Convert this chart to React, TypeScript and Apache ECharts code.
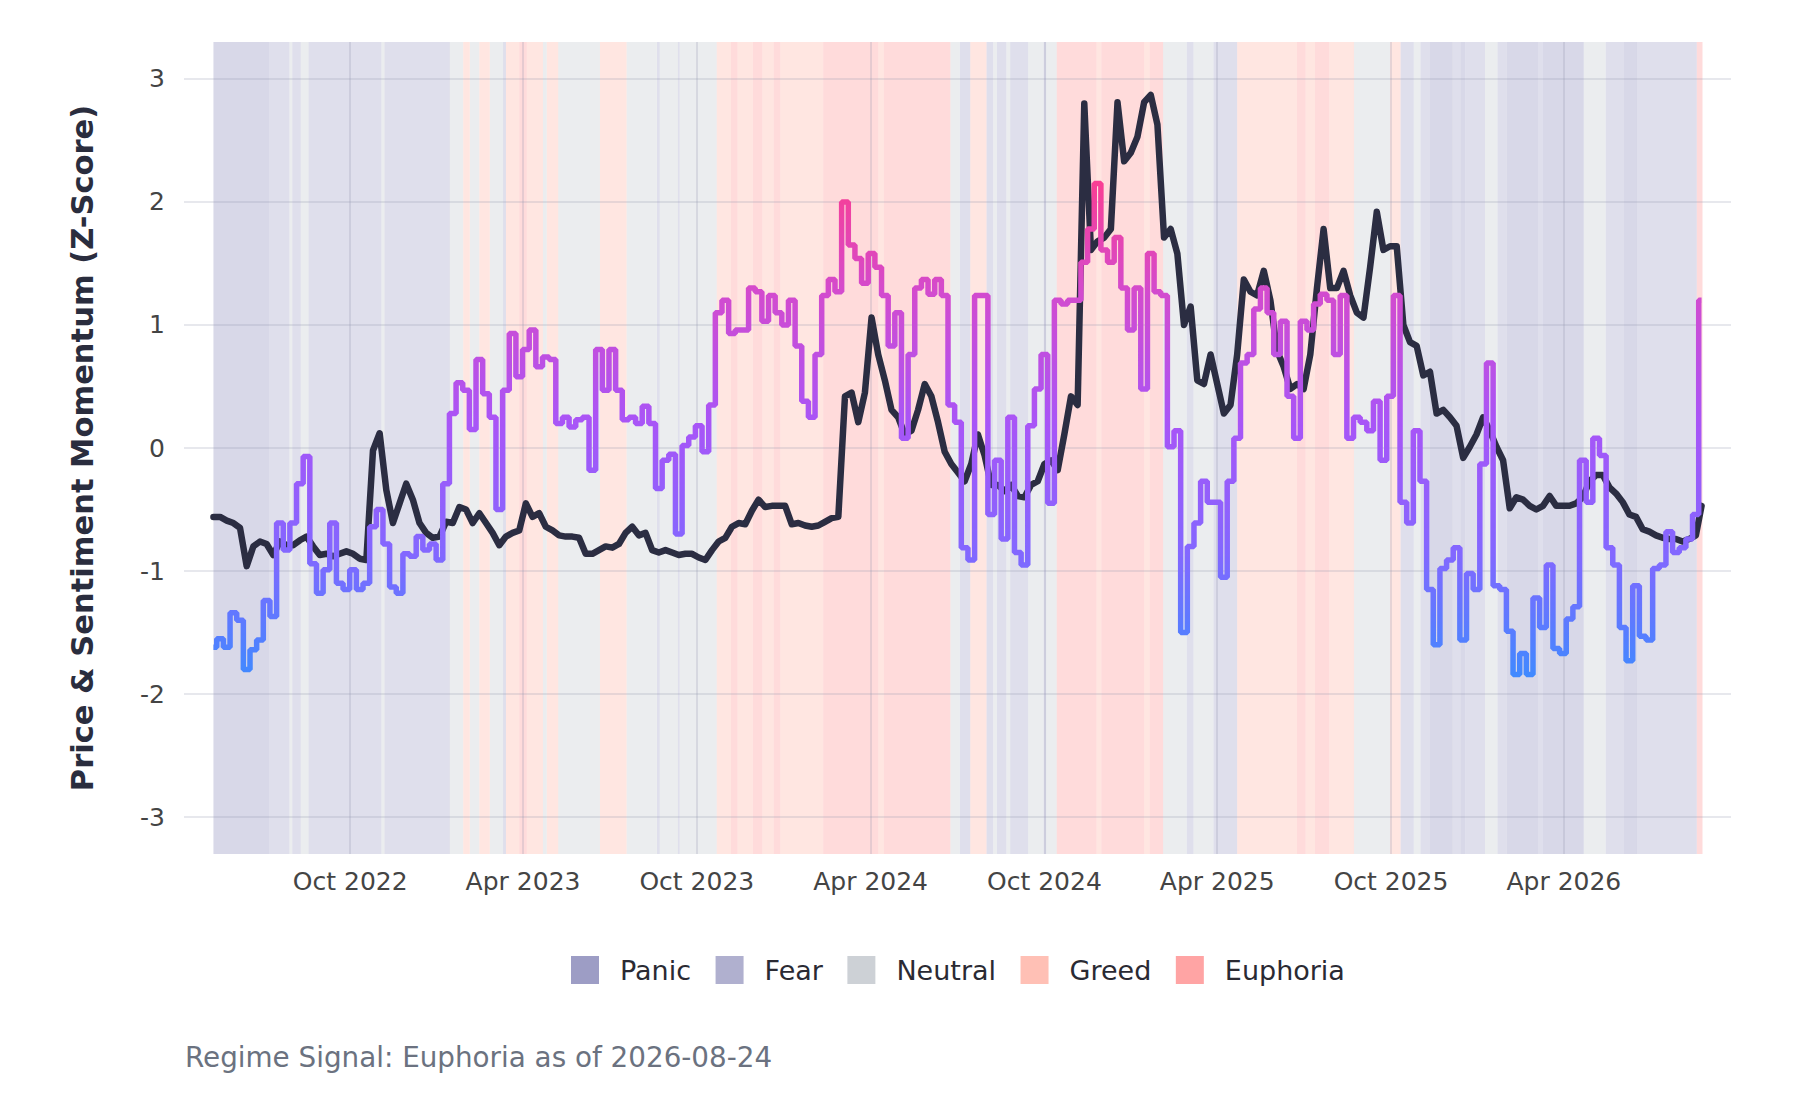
import { useEffect, useRef } from "react";
import * as echarts from "echarts";

// ---- data ----
const START_DATE = "2022-05-10";
const END_DATE = "2026-08-24";
const STEP_DAYS = 7;
const AXIS_MIN = "2022-04-09";
const AXIS_MAX = "2026-09-24";
const DAY = 86400000;

const tickDates = [
  "2022-10-01", "2023-04-01", "2023-10-01", "2024-04-01",
  "2024-10-01", "2025-04-01", "2025-10-01", "2026-04-01",
];
const tickLabels = [
  "Oct 2022", "Apr 2023", "Oct 2023", "Apr 2024",
  "Oct 2024", "Apr 2025", "Oct 2025", "Apr 2026",
];
const yTicks = [-3, -2, -1, 0, 1, 2, 3];

// weekly readings from START_DATE, last value on END_DATE
const sentiment = [
  -1.62, -1.55, -1.62, -1.34, -1.4, -1.8, -1.64, -1.56, -1.24, -1.37,
  -0.61, -0.83, -0.61, -0.29, -0.07, -0.94, -1.18, -0.99, -0.61, -1.1,
  -1.15, -0.99, -1.15, -1.1, -0.64, -0.5, -0.78, -1.13, -1.18, -0.86,
  -0.88, -0.72, -0.83, -0.78, -0.91, -0.29, 0.28, 0.53, 0.47, 0.15,
  0.72, 0.44, 0.25, -0.5, 0.47, 0.93, 0.58, 0.8, 0.96, 0.66,
  0.74, 0.72, 0.2, 0.25, 0.17, 0.23, 0.25, -0.18, 0.8, 0.47,
  0.8, 0.47, 0.23, 0.25, 0.2, 0.34, 0.2, -0.33, -0.1, -0.05,
  -0.7, 0.02, 0.09, 0.18, -0.03, 0.35, 1.1, 1.2, 0.93, 0.96,
  0.96, 1.3, 1.27, 1.03, 1.24, 1.1, 1.0, 1.2, 0.83, 0.38,
  0.25, 0.76, 1.24, 1.37, 1.27, 2.0, 1.65, 1.54, 1.34, 1.58,
  1.47, 1.24, 0.83, 1.1, 0.08, 0.76, 1.3, 1.37, 1.25, 1.37,
  1.24, 0.35, 0.21, -0.81, -0.91, 1.24, 1.24, -0.54, -0.1, -0.74,
  0.25, -0.85, -0.95, 0.18, 0.48, 0.76, -0.45, 1.2, 1.17, 1.2,
  1.2, 1.51, 1.78, 2.15, 1.61, 1.51, 1.71, 1.3, 0.96, 1.3,
  0.48, 1.58, 1.27, 1.24, 0.01, 0.14, -1.5, -0.8, -0.61, -0.27,
  -0.44, -0.44, -1.05, -0.27, 0.08, 0.69, 0.76, 1.13, 1.3, 1.1,
  0.76, 1.03, 0.42, 0.08, 1.03, 0.96, 1.17, 1.25, 1.2, 0.76,
  1.24, 0.08, 0.25, 0.21, 0.14, 0.38, -0.1, 0.42, 1.24, -0.44,
  -0.61, 0.14, -0.27, -1.15, -1.6, -0.98, -0.91, -0.81, -1.56, -1.02,
  -1.15, -0.13, 0.69, -1.12, -1.15, -1.49, -1.84, -1.67, -1.84, -1.22,
  -1.46, -0.95, -1.63, -1.67, -1.39, -1.29, -0.1, -0.44, 0.08, -0.06,
  -0.81, -0.95, -1.46, -1.73, -1.12, -1.53, -1.56, -0.98, -0.95, -0.68,
  -0.85, -0.81, -0.74, -0.54, 1.2,
];

const priceMomentum = [
  -0.56, -0.56, -0.59, -0.61, -0.65, -0.96, -0.8, -0.76, -0.78, -0.87,
  -0.76, -0.79, -0.79, -0.75, -0.72, -0.8, -0.87, -0.86, -0.88, -0.86,
  -0.84, -0.86, -0.9, -0.91, -0.02, 0.12, -0.34, -0.61, -0.45, -0.29,
  -0.42, -0.61, -0.69, -0.73, -0.72, -0.6, -0.61, -0.48, -0.5, -0.61,
  -0.53, -0.61, -0.69, -0.79, -0.72, -0.69, -0.67, -0.45, -0.56, -0.53,
  -0.64, -0.67, -0.71, -0.72, -0.72, -0.73, -0.86, -0.86, -0.83, -0.8,
  -0.81, -0.78, -0.69, -0.64, -0.71, -0.69, -0.83, -0.85, -0.83, -0.85,
  -0.87, -0.86, -0.86, -0.89, -0.91, -0.83, -0.76, -0.73, -0.64, -0.61,
  -0.62, -0.51, -0.42, -0.48, -0.47, -0.47, -0.47, -0.62, -0.61, -0.63,
  -0.64, -0.63, -0.6, -0.57, -0.56, 0.42, 0.45, 0.21, 0.45, 1.06,
  0.76, 0.55, 0.31, 0.25, 0.11, 0.14, 0.31, 0.52, 0.42, 0.21,
  -0.03, -0.13, -0.2, -0.27, -0.13, 0.11, -0.06, -0.3, -0.3, -0.35,
  -0.3, -0.39, -0.4, -0.3, -0.27, -0.13, -0.1, -0.18, 0.11, 0.42,
  0.35, 2.8, 1.61, 1.68, 1.71, 1.78, 2.81, 2.33, 2.4, 2.53,
  2.81, 2.87, 2.63, 1.71, 1.78, 1.58, 1.0, 1.15, 0.55, 0.52,
  0.76, 0.52, 0.28, 0.35, 0.76, 1.37, 1.27, 1.24, 1.44, 1.2,
  0.79, 0.66, 0.48, 0.52, 0.48, 0.76, 1.3, 1.78, 1.3, 1.3,
  1.44, 1.24, 1.1, 1.06, 1.47, 1.92, 1.61, 1.64, 1.64, 1.0,
  0.86, 0.83, 0.59, 0.62, 0.28, 0.31, 0.25, 0.18, -0.08, 0.01,
  0.11, 0.25, 0.14, 0.01, -0.1, -0.49, -0.4, -0.42, -0.47, -0.5,
  -0.47, -0.39, -0.47, -0.47, -0.47, -0.45, -0.4, -0.27, -0.22, -0.22,
  -0.32, -0.37, -0.44, -0.54, -0.56, -0.66, -0.68, -0.71, -0.73, -0.74,
  -0.74, -0.76, -0.74, -0.71, -0.47,
];

const regimeNames = ["Panic", "Fear", "Neutral", "Greed", "Euphoria"];
const regimeCodes = ["P", "F", "N", "G", "E"];
const regimeColors = ["#9d9dc5", "#b0b0cf", "#cdd1d6", "#ffc0b5", "#ffa4a4"];

// regime periods: start day (offset from START_DATE) and regime code
const regimeStartDay = [
  0, 59, 80, 83, 92, 100, 177, 180, 249, 263,
  270, 280, 291, 305, 308, 322, 330, 347, 351, 363,
  407, 435, 467, 470, 489, 491, 530, 545, 552, 568,
  578, 590, 597, 642, 700, 706, 776, 786, 797, 814,
  821, 825, 835, 839, 858, 874, 877, 888, 930, 935,
  980, 986, 1000, 1025, 1032, 1053, 1078, 1141, 1150, 1160,
  1175, 1201, 1239, 1250, 1264, 1271, 1281, 1305, 1313, 1318,
  1339, 1352, 1362, 1395, 1400, 1443, 1466, 1485, 1499, 1562,
];
const regimeSeq = [
  "P", "F", "N", "F", "N", "F", "N", "F", "N", "G",
  "N", "G", "N", "F", "G", "E", "G", "N", "G", "N",
  "G", "N", "F", "N", "F", "N", "G", "E", "G", "E",
  "G", "E", "G", "E", "G", "E", "N", "F", "G", "F",
  "N", "F", "N", "F", "N", "F", "N", "E", "G", "E",
  "G", "E", "N", "F", "N", "F", "G", "E", "G", "E",
  "G", "N", "G", "F", "N", "F", "P", "F", "P", "F",
  "N", "F", "P", "F", "P", "N", "F", "P", "F", "E",
];
const REGIME_END_DAY = 1568;

const FONT = "DejaVu Sans";

export default function App() {
  const ref = useRef<HTMLDivElement>(null);

  useEffect(() => {
    if (!ref.current) return;
    const chart = echarts.init(ref.current, undefined, { renderer: "svg" });

    const t0 = Date.parse(START_DATE);
    const tEnd = Date.parse(END_DATE);
    const n = sentiment.length;
    const times = sentiment.map((_, i) => (i === n - 1 ? tEnd : t0 + i * STEP_DAYS * DAY));
    const tickTimes = tickDates.map((d) => Date.parse(d));

    const segments = regimeStartDay.map((d, i) => {
      const next = i + 1 < regimeStartDay.length ? regimeStartDay[i + 1] : REGIME_END_DAY;
      return { code: regimeSeq[i], from: t0 + d * DAY, to: t0 + next * DAY };
    });

    const regimeSeries = regimeNames.map((name, ri) => ({
      type: "custom",
      name,
      z: 0,
      silent: true,
      itemStyle: { color: regimeColors[ri] },
      encode: { x: [0, 1] },
      data: segments.filter((s) => s.code === regimeCodes[ri]).map((s) => [s.from, s.to]),
      renderItem: (params: any, api: any) => {
        const a = api.coord([api.value(0), 0]);
        const b = api.coord([api.value(1), 0]);
        const cs = params.coordSys;
        return {
          type: "rect",
          shape: { x: a[0], y: cs.y, width: b[0] - a[0], height: cs.height },
          style: { fill: regimeColors[ri], opacity: 0.4 },
        };
      },
    }));

    const gridLine = { show: true, lineStyle: { color: "rgba(150,152,175,0.3)", width: 1.6 } };

    chart.setOption({
      animation: false,
      backgroundColor: "#ffffff",
      textStyle: { fontFamily: FONT },
      grid: { left: 184, right: 69, top: 42, bottom: 246 },
      legend: {
        data: regimeNames,
        icon: "rect",
        itemWidth: 28,
        itemHeight: 28,
        itemGap: 24.5,
        left: 566,
        top: 951,
        selectedMode: false,
        textStyle: { fontFamily: FONT, fontSize: 27, color: "#2a2a33", padding: [0, 0, 0, 16] },
      },
      visualMap: {
        show: false,
        type: "continuous",
        seriesIndex: 6,
        dimension: 1,
        min: -1.9,
        max: 2.3,
        inRange: { color: ["#3d8bff", "#8367ff", "#a855f7", "#d24bcf", "#ff3d8b"] },
      },
      xAxis: {
        type: "value",
        min: Date.parse(AXIS_MIN),
        max: Date.parse(AXIS_MAX),
        z: 1,
        axisLine: { show: false },
        axisTick: { show: false, customValues: tickTimes },
        axisLabel: {
          customValues: tickTimes,
          fontFamily: FONT,
          fontSize: 25,
          color: "#444444",
          margin: 15,
          formatter: (v: number) => {
            const i = tickTimes.indexOf(v);
            return i >= 0 ? tickLabels[i] : "";
          },
        },
        splitLine: gridLine,
      },
      yAxis: {
        type: "value",
        min: -3.3,
        max: 3.3,
        z: 1,
        name: "Price & Sentiment Momentum (Z-Score)",
        nameLocation: "middle",
        nameRotate: 90,
        nameGap: 86,
        nameTextStyle: { fontFamily: FONT, fontSize: 30.5, fontWeight: "bold", color: "#2a2d3e" },
        axisLine: { show: false },
        axisTick: { show: false, customValues: yTicks },
        axisLabel: { customValues: yTicks, fontFamily: FONT, fontSize: 25, color: "#444444", margin: 19 },
        splitLine: gridLine,
      },
      graphic: [
        {
          type: "text",
          left: 185,
          top: 1043,
          style: {
            text: "Regime Signal: Euphoria as of 2026-08-24",
            fontFamily: FONT,
            fontSize: 27.8,
            fill: "#6b7280",
          },
        },
      ],
      series: [
        ...regimeSeries,
        {
          type: "line",
          name: "Price Momentum",
          z: 3,
          data: times.map((t, i) => [t, priceMomentum[i]]),
          showSymbol: false,
          symbol: "none",
          lineStyle: { color: "#2b2d42", width: 6.5, cap: "round", join: "round" },
        },
        {
          type: "line",
          name: "Sentiment Momentum",
          z: 4,
          step: "middle",
          data: times.map((t, i) => [t, sentiment[i]]),
          showSymbol: false,
          symbol: "none",
          lineStyle: { width: 5.5 },
        },
      ],
    });

    return () => chart.dispose();
  }, []);

  return (
    <div
      ref={ref}
      style={{ position: "absolute", left: 0, top: 0, width: 1800, height: 1100, background: "#fff" }}
    />
  );
}
